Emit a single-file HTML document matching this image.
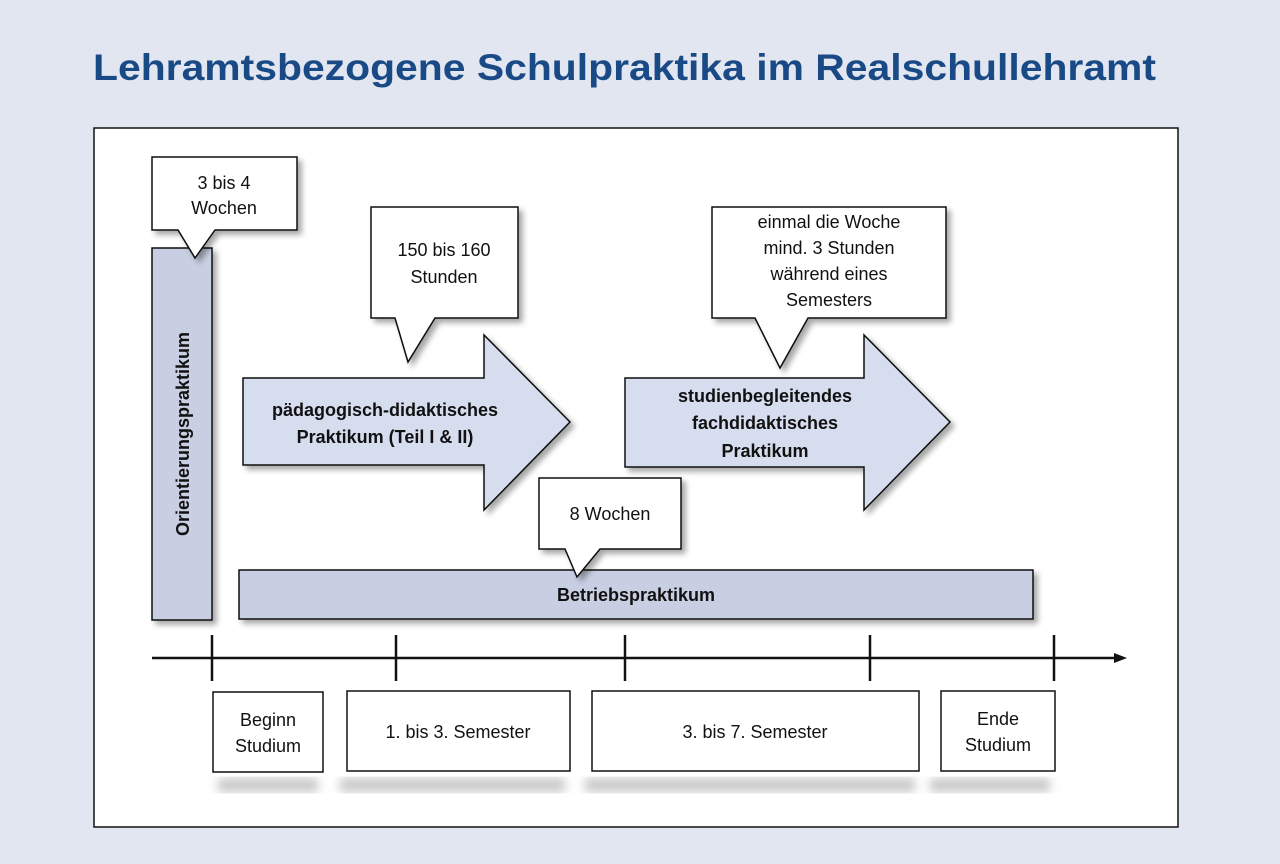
<!DOCTYPE html>
<html><head><meta charset="utf-8"><style>
html,body{margin:0;padding:0;background:#e1e6f0;}
svg{display:block;}
text{font-family:"Liberation Sans",sans-serif;}
</style></head><body>
<svg width="1280" height="864" viewBox="0 0 1280 864" xmlns="http://www.w3.org/2000/svg">
<defs>
<filter id="sh" x="-20%" y="-20%" width="150%" height="150%"><feDropShadow dx="4" dy="4" stdDeviation="3" flood-color="#000" flood-opacity="0.35"/></filter>
<filter id="bl"><feGaussianBlur stdDeviation="5"/></filter>
</defs>
<rect width="1280" height="864" fill="#e1e6f0"/>
<text x="93" y="80" font-size="37" font-weight="bold" fill="#1a4a86" textLength="1063" lengthAdjust="spacingAndGlyphs">Lehramtsbezogene Schulpraktika im Realschullehramt</text>
<rect x="94" y="128" width="1084" height="699" fill="#fff" stroke="#111" stroke-width="1.5"/>

<g stroke="#111" stroke-width="1.5">
<rect x="152" y="248" width="60" height="372" fill="#c9cfe3" filter="url(#sh)"/>
<rect x="239" y="570" width="794" height="49" fill="#c9cfe3" filter="url(#sh)"/>
<path d="M243 378 H484 V335 L570 422 L484 510 V465 H243 Z" fill="#d6ddef" filter="url(#sh)"/>
<path d="M625 378 H864 V335 L950 422 L864 510 V467 H625 Z" fill="#d6ddef" filter="url(#sh)"/>
<path d="M152 157 H297 V230 H215 L195 258 L178 230 H152 Z" fill="#fff" filter="url(#sh)"/>
<path d="M371 207 H518 V318 H435 L408 362 L395 318 H371 Z" fill="#fff" filter="url(#sh)"/>
<path d="M712 207 H946 V318 H808 L780 368 L755 318 H712 Z" fill="#fff" filter="url(#sh)"/>
<path d="M539 478 H681 V549 H600 L577 577 L565 549 H539 Z" fill="#fff" filter="url(#sh)"/>
</g>

<g fill="#c8c8c8" filter="url(#bl)">
<rect x="218" y="778" width="100" height="14"/>
<rect x="340" y="778" width="225" height="14"/>
<rect x="585" y="778" width="330" height="14"/>
<rect x="930" y="778" width="120" height="14"/>
</g>
<g stroke="#111" stroke-width="1.5" fill="#fff">
<rect x="213" y="692" width="110" height="80"/>
<rect x="347" y="691" width="223" height="80"/>
<rect x="592" y="691" width="327" height="80"/>
<rect x="941" y="691" width="114" height="80"/>
</g>

<g stroke="#111" stroke-width="2.5">
<line x1="152" y1="658" x2="1118" y2="658"/>
<line x1="212" y1="635" x2="212" y2="681"/>
<line x1="396" y1="635" x2="396" y2="681"/>
<line x1="625" y1="635" x2="625" y2="681"/>
<line x1="870" y1="635" x2="870" y2="681"/>
<line x1="1054" y1="635" x2="1054" y2="681"/>
</g>
<path d="M1127 658 L1114 653 L1114 663 Z" fill="#111"/>

<g font-size="18" fill="#111" text-anchor="middle">
<text x="224" y="189">3 bis 4</text>
<text x="224" y="214">Wochen</text>
<text x="444" y="256">150 bis 160</text>
<text x="444" y="283">Stunden</text>
<text x="829" y="228">einmal die Woche</text>
<text x="829" y="254">mind. 3 Stunden</text>
<text x="829" y="280">während eines</text>
<text x="829" y="306">Semesters</text>
<text x="610" y="520">8  Wochen</text>
<text x="268" y="726">Beginn</text>
<text x="268" y="752">Studium</text>
<text x="458" y="738">1. bis 3. Semester</text>
<text x="755" y="738">3. bis 7. Semester</text>
<text x="998" y="725">Ende</text>
<text x="998" y="751">Studium</text>
</g>
<g font-size="18" font-weight="bold" fill="#111" text-anchor="middle">
<text x="385" y="416">pädagogisch-didaktisches</text>
<text x="385" y="443">Praktikum (Teil I &amp; II)</text>
<text x="765" y="402">studienbegleitendes</text>
<text x="765" y="429">fachdidaktisches</text>
<text x="765" y="457">Praktikum</text>
<text x="636" y="601">Betriebspraktikum</text>
<text transform="translate(189 434) rotate(-90)">Orientierungspraktikum</text>
</g>
</svg>
</body></html>
